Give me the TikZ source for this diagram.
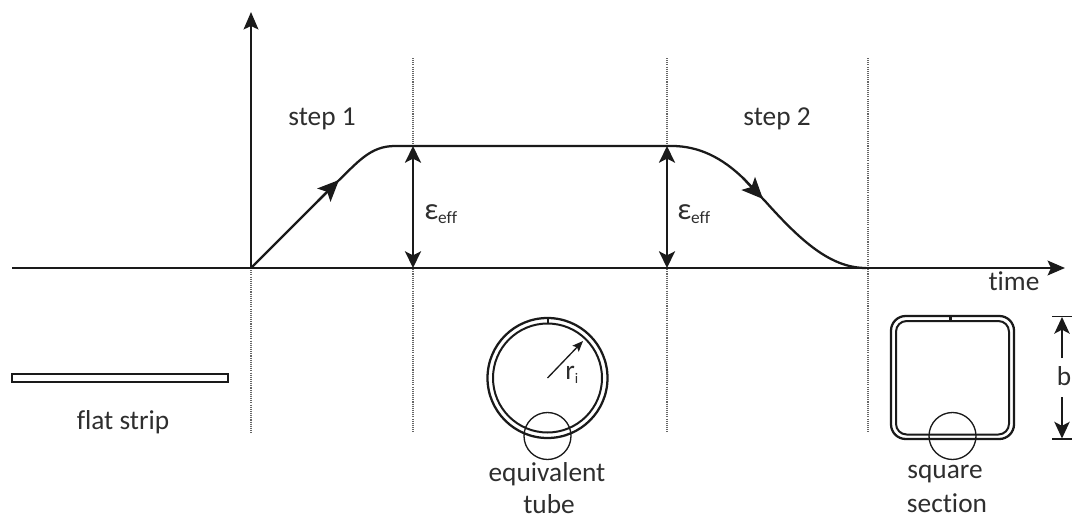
\documentclass[tikz,border=0pt]{standalone}
\usepackage{fontspec}
\setmainfont{Carlito}[Ligatures={NoCommon}]
\usetikzlibrary{arrows.meta}
\definecolor{ink}{HTML}{1A1A1A}
\definecolor{txt}{HTML}{2E2E2E}
\tikzset{
 x=0.75pt,y=-0.75pt,
 axisline/.style={draw=ink,line width=1.9pt,-{Stealth[length=13pt,width=11pt,inset=2.5pt]}},
 dim/.style={draw=ink,line width=1.7pt,{Stealth[length=12.5pt,width=12pt,inset=3pt]}-{Stealth[length=12.5pt,width=12pt,inset=3pt]}},
 dimone/.style={draw=ink,line width=1.3pt,-{Stealth[length=12.5pt,width=11.5pt,inset=3pt]}},
 curveline/.style={draw=ink,line width=1.7pt},
 midtip/.style={draw=ink,line width=1.7pt,-{Stealth[length=16pt,width=14pt,inset=3.5pt]}},
 guide/.style={draw=black!60,line width=0.8pt,dash pattern=on 0.8pt off 0.8pt},
 wall/.style={draw=ink,line width=1.5pt},
 thinring/.style={draw=ink,line width=1pt},
 lab/.style={font=\fontsize{20.5}{22}\selectfont,text=txt,inner sep=0pt,anchor=base},
}
\begin{document}
\begin{tikzpicture}
\useasboundingbox (0,0) rectangle (1079,518);
% anchors
\coordinate (hstart) at (12,268);
\coordinate (hend) at (1065,268);
\coordinate (origin) at (251,268);
\coordinate (vtop) at (251,12);
\coordinate (g1b) at (251,433);
\coordinate (g2t) at (413,58); \coordinate (g2b) at (413,433);
\coordinate (g3t) at (667,58); \coordinate (g3b) at (667,433);
\coordinate (g4t) at (868,58); \coordinate (g4b) at (868,433);
\coordinate (p2t) at (413,146); \coordinate (p2b) at (413,268);
\coordinate (p3t) at (667,146); \coordinate (p3b) at (667,268);
\coordinate (end) at (866,268);
% guides
\draw[guide] (origin) -- (g1b);
\draw[guide] (g2t) -- (g2b);
\draw[guide] (g3t) -- (g3b);
\draw[guide] (g4t) -- (g4b);
% axes
\draw[axisline] (hstart) -- (hend);
\draw[axisline] (origin) -- (vtop);
% curve
\draw[curveline] (origin) -- (335,184) .. controls (358,162) and (370,146) .. (395,146)
  -- (672,146) .. controls (698,146) and (722,157) .. (745,180) -- (765,201)
  .. controls (800,240) and (830,268) .. (end);
\coordinate (t1a) at (318,201); \coordinate (t1b) at (339,180);
\coordinate (t2a) at (743,178); \coordinate (t2b) at (763,199);
\draw[midtip] (t1a) -- (t1b);
\draw[midtip] (t2a) -- (t2b);
% double arrows
\draw[dim] (p2t) -- (p2b);
\draw[dim] (p3t) -- (p3b);
% labels
\node[lab] (s1) at (322,125) {step 1};
\node[lab] (s2) at (777,125) {step 2};
\node[lab,anchor=base west] (e1) at (424,219) {\fontsize{23}{23}\selectfont ε\raisebox{-3pt}{\fontsize{13}{13}\selectfont eff}};
\node[lab,anchor=base west] (e2) at (677,219) {\fontsize{23}{23}\selectfont ε\raisebox{-3pt}{\fontsize{13}{13}\selectfont eff}};
\node[lab] (time) at (1014,290) {time};
% flat strip
\draw[wall] (12,374) rectangle (228,382);
\node[lab] (flat) at (123,429) {flat strip};
% tube
\coordinate (tc) at (547.5,378);
\draw[wall,line width=1.7pt] (tc) circle[radius=60];
\draw[wall] (tc) circle[radius=54.5];
\coordinate (m1) at (547.5,318); \coordinate (m2) at (547.5,323.5);
\draw[wall] (m1) -- (m2);
\coordinate (ra) at (583,341);
\draw[draw=ink,line width=1pt,-{Stealth[length=8pt,width=6.5pt,inset=1.5pt]}] (tc) -- (ra);
\node[lab,anchor=base west] (ri) at (565,379) {r\raisebox{-3pt}{\fontsize{11}{11}\selectfont i}};
\draw[thinring] (547.5,436) circle[radius=23.5];
\node[lab] (eq) at (547,481) {equivalent};
\node[lab] (tube) at (549,513) {tube};
% square
\draw[wall,line width=1.7pt,rounded corners=11pt] (891,316) rectangle (1014,439);
\draw[wall,rounded corners=8pt] (896,321) rectangle (1009,434.5);
\coordinate (m3) at (950.5,316); \coordinate (m4) at (950.5,321);
\draw[wall,line width=1.7pt] (m3) -- (m4);
\draw[thinring] (952.5,436) circle[radius=23.5];
\node[lab] (sq) at (945,478) {square};
\node[lab] (sec) at (947,512) {section};
% b dimension
\coordinate (bt1) at (1052,316.5); \coordinate (bt2) at (1072,316.5);
\coordinate (bb1) at (1052,439); \coordinate (bb2) at (1072,439);
\coordinate (bua) at (1062,358); \coordinate (bub) at (1062,317);
\coordinate (bda) at (1062,397); \coordinate (bdb) at (1062,438.5);
\draw[thinring] (bt1) -- (bt2);
\draw[thinring] (bb1) -- (bb2);
\draw[dimone] (bua) -- (bub);
\draw[dimone] (bda) -- (bdb);
\node[lab] (b) at (1064,385) {b};
\end{tikzpicture}
\end{document}
